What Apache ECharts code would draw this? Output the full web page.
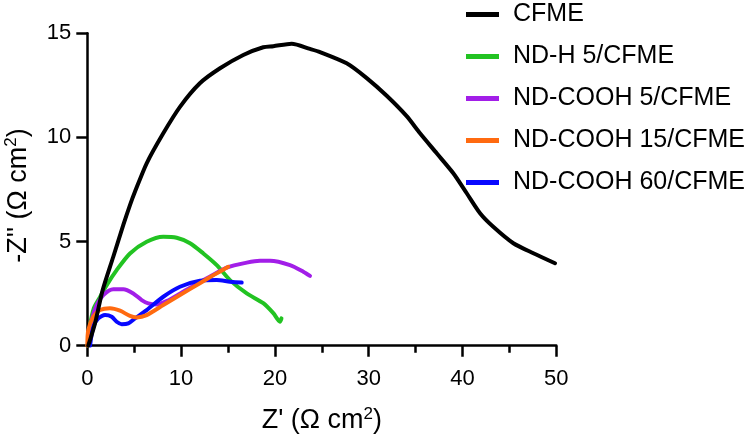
<!DOCTYPE html>
<html>
<head>
<meta charset="utf-8">
<script src="https://cdn.jsdelivr.net/npm/echarts@6/dist/echarts.min.js"></script>
<style>
html,body{margin:0;padding:0;background:#fff;}
#chart{width:755px;height:437px;}
</style>
</head>
<body>
<div id="chart"></div>
<script>
var seriesNames = ['CFME', 'ND-H 5/CFME', 'ND-COOH 5/CFME', 'ND-COOH 15/CFME', 'ND-COOH 60/CFME'];

var cfmeX = [0.1,0.82,1.64,2.77,3.84,4.55,5.09,6.33,8.1,9.88,12.0,14.15,16.63,18.76,19.83,21.79,23.74,24.81,27.65,29.79,31.92,34.05,35.47,37.25,39.02,40.45,41.87,43.28,45.42,47.55,49.86];
var cfmeY = [0,1.07,2.67,4.27,5.8,6.75,7.4,8.76,10.2,11.47,12.6,13.32,13.96,14.33,14.38,14.5,14.25,14.1,13.56,12.85,12.0,11.02,10.2,9.24,8.28,7.32,6.36,5.71,4.92,4.44,3.96];

var ndh5X = [0.05,0.3,0.7,1.17,2.07,3.13,4.55,6.33,8.1,9.53,10.95,12.37,13.8,15.21,17.0,18.76,19.83,20.54,20.7];
var ndh5Y = [0,1.0,1.8,2.19,2.91,3.63,4.43,4.99,5.23,5.18,4.92,4.43,3.87,3.15,2.51,2.04,1.56,1.15,1.31];

var cooh5X = [0.1,0.47,1.0,1.71,2.77,3.84,4.9,5.8,6.5,7.4,8.5,9.88,11.0,12.0,13.0,14.86,17.0,18.41,19.48,21.61,23.03,23.74];
var cooh5Y = [0.27,1.23,1.95,2.43,2.71,2.71,2.51,2.19,2.03,1.98,2.15,2.5,2.8,3.05,3.3,3.75,3.99,4.08,4.08,3.87,3.55,3.35];

var cooh15X = [0,0.1,0.64,1.35,2.42,3.49,4.55,5.27,6.33,8.1,9.88,12.0,13.5,15.03];
var cooh15Y = [0,0.75,1.39,1.71,1.8,1.68,1.43,1.36,1.47,1.95,2.43,3.0,3.4,3.79];

var cooh60X = [0.29,0.64,1.17,1.89,2.6,3.13,3.67,4.37,5.09,6.33,8.1,9.88,12.01,13.8,15.21,16.46];
var cooh60Y = [0,0.91,1.31,1.47,1.39,1.15,1.03,1.07,1.31,1.71,2.35,2.83,3.12,3.15,3.07,3.03];

var xTicks = [0, 10, 20, 30, 40, 50];
var yTicks = [0, 5, 10, 15];

var colors = {
  'CFME': '#000000',
  'ND-H 5/CFME': '#22c322',
  'ND-COOH 5/CFME': '#a21ee8',
  'ND-COOH 15/CFME': '#ff6a10',
  'ND-COOH 60/CFME': '#0808ff'
};

function zip(xs, ys) { return xs.map(function (x, i) { return [x, ys[i]]; }); }

function mk(name, xs, ys, z) {
  return {
    name: name, type: 'line', data: zip(xs, ys), smooth: 0.25, showSymbol: false, symbol: 'none',
    z: z, color: colors[name],
    lineStyle: { width: 4, color: colors[name], cap: 'round', join: 'round' }
  };
}

var FONT = '"Liberation Sans", Arial, sans-serif';
var supStyle = { fontSize: 17, fontFamily: FONT, color: '#000', padding: [0, 0, 13, 0] };
var chart = echarts.init(document.getElementById('chart'));
chart.setOption({
  animation: false,
  backgroundColor: '#ffffff',
  grid: { left: 87.3, right: 198.7, top: 33.3, bottom: 91.3, containLabel: false, outerBoundsMode: 'none' },
  legend: {
    orient: 'vertical', left: 461, top: -3,
    data: seriesNames,
    icon: 'rect', itemWidth: 33, itemHeight: 5, itemGap: 17,
    textStyle: { fontSize: 25, fontFamily: FONT, color: '#000', padding: [0, 0, 0, 9] }
  },
  xAxis: {
    type: 'value', min: 0, max: 50, interval: 10,
    name: "Z' (Ω cm{sup|2})", nameLocation: 'middle', nameGap: 60,
    nameTextStyle: { fontSize: 27, fontFamily: FONT, color: '#000', rich: { sup: supStyle } },
    axisLine: { lineStyle: { color: '#000', width: 2.5 } },
    axisTick: { show: true, length: 11, lineStyle: { color: '#000', width: 2.5 } },
    minorTick: { show: true, splitNumber: 2, length: 7, lineStyle: { color: '#000', width: 2.5 } },
    splitLine: { show: false },
    axisLabel: { fontSize: 22, fontFamily: FONT, color: '#000', margin: 22,
      formatter: function (v) { return xTicks.indexOf(v) >= 0 ? String(v) : ''; } }
  },
  yAxis: {
    type: 'value', min: 0, max: 15, interval: 5,
    name: "-Z'' (Ω cm{sup|2})", nameLocation: 'middle', nameGap: 54,
    nameTextStyle: { fontSize: 27, fontFamily: FONT, color: '#000', padding: [0, 12, 0, 0], rich: { sup: supStyle } },
    axisLine: { show: true, lineStyle: { color: '#000', width: 2.5 } },
    axisTick: { show: true, length: 11, lineStyle: { color: '#000', width: 2.5 } },
    splitLine: { show: false },
    axisLabel: { fontSize: 22, fontFamily: FONT, color: '#000', margin: 16,
      formatter: function (v) { return yTicks.indexOf(v) >= 0 ? String(v) : ''; } }
  },
  series: [
    mk('ND-H 5/CFME', ndh5X, ndh5Y, 2),
    mk('ND-COOH 5/CFME', cooh5X, cooh5Y, 3),
    mk('ND-COOH 60/CFME', cooh60X, cooh60Y, 4),
    mk('ND-COOH 15/CFME', cooh15X, cooh15Y, 5),
    mk('CFME', cfmeX, cfmeY, 6)
  ]
});
</script>
</body>
</html>
